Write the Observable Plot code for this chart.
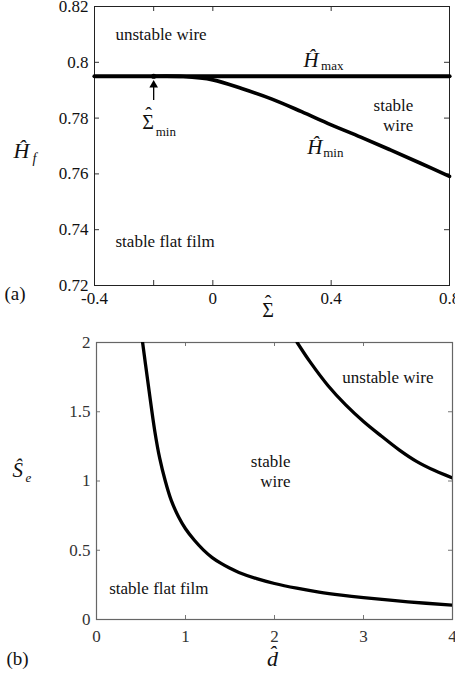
<!DOCTYPE html>
<html>
<head>
<meta charset="utf-8">
<script src="https://cdn.jsdelivr.net/npm/d3@7"></script>
<script src="https://cdn.jsdelivr.net/npm/@observablehq/plot@0.6"></script>
<style>
  html, body { margin: 0; padding: 0; background: #fff; }
  #wrap { position: relative; width: 455px; height: 681px; overflow: hidden; background: #fff; }
  #pa, #pb { position: absolute; left: 0; }
  #pa { top: 0; }
  #pb { top: 325px; }
</style>
</head>
<body>
<div id="wrap"><div id="pa"></div><div id="pb"></div></div>
<script>
// ---- Panel (a) data ----
const sigmaTicks = [-0.4, 0, 0.4, 0.8];
const hfTicks = [0.72, 0.74, 0.76, 0.78, 0.8, 0.82];
const sigmaMinorTop = [-0.2, 0, 0.4];
const sigmaCurve = [-0.2, -0.1, 0, 0.1, 0.2, 0.3, 0.4, 0.5, 0.6, 0.7, 0.8];
const hMinCurve = [0.795, 0.7949, 0.7937, 0.7905, 0.7868, 0.7823, 0.7776, 0.7732, 0.7686, 0.7639, 0.7591];
const sigmaSpan = [-0.4, 0.8];
const hMaxValue = 0.795;
const sigmaMinPoint = -0.2;

// ---- Panel (b) data ----
const dTicks = [0, 1, 2, 3, 4];
const seTicks = [0, 0.5, 1, 1.5, 2];
const dLower = [0.518, 0.55, 0.59, 0.655, 0.71, 0.773, 0.84, 0.923, 1.0, 1.1, 1.2, 1.3, 1.4, 1.5, 1.6, 1.8, 2.0, 2.25, 2.5, 2.75, 3.0, 3.5, 4.0];
const sLower = [2.0, 1.845, 1.655, 1.36, 1.165, 1.0, 0.86, 0.74, 0.655, 0.572, 0.503, 0.447, 0.405, 0.37, 0.34, 0.295, 0.26, 0.226, 0.198, 0.176, 0.158, 0.128, 0.103];
const dUpper = [2.255, 2.4, 2.6, 2.8, 3.0, 3.2, 3.4, 3.6, 3.8, 4.0];
const sUpper = [2.0, 1.86, 1.69, 1.55, 1.43, 1.325, 1.225, 1.14, 1.075, 1.022];

const FONT = "'Liberation Serif', 'Times New Roman', serif";
const fmt = d => String(d);
const HAT = "\u02C6";

// ---------- Panel (a) ----------
{
  const W = 455, H = 325, mL = 94, mR = 6, mT = 6, mB = 40;
  const iw = W - mL - mR, ih = H - mT - mB;
  const lineA = sigmaCurve.map((s, i) => ({s, h: hMinCurve[i]}));
  const maxLine = sigmaSpan.map(s => ({s, h: hMaxValue}));
  const chart = Plot.plot({
    width: W, height: H,
    marginLeft: mL, marginRight: mR, marginTop: mT, marginBottom: mB,
    x: {domain: [-0.4, 0.8]},
    y: {domain: [0.72, 0.82]},
    style: {fontFamily: FONT, fontSize: "17px", color: "#111", background: "transparent", overflow: "visible"},
    marks: [
      Plot.axisX(sigmaTicks, {tickSize: 0, tickPadding: 6, label: null, tickFormat: fmt, fontSize: 17}),
      Plot.axisY(hfTicks, {tickSize: 0, tickPadding: 6, label: null, tickFormat: fmt, fontSize: 17}),
      Plot.tickX(sigmaTicks.concat([-0.2]), {x: d => d, insetTop: ih - 5, stroke: "#333"}),
      Plot.tickX(sigmaMinorTop, {x: d => d, insetBottom: ih - 5, stroke: "#333"}),
      Plot.tickY(hfTicks, {y: d => d, insetRight: iw - 5, stroke: "#333"}),
      Plot.tickY(hfTicks, {y: d => d, insetLeft: iw - 5, stroke: "#333"}),
      Plot.frame({stroke: "#222", strokeWidth: 1}),
      Plot.line(maxLine, {x: "s", y: "h", stroke: "#000", strokeWidth: 4.2}),
      Plot.line(lineA, {x: "s", y: "h", stroke: "#000", strokeWidth: 3.6, curve: "catmull-rom"}),
      Plot.dot([sigmaMinPoint], {x: d => d, y: () => hMaxValue, r: 2.6, fill: "#000", stroke: null}),
      Plot.ruleX([sigmaMinPoint], {x: d => d, y1: 0.7863, y2: 0.7912, stroke: "#000", strokeWidth: 1.3}),
      Plot.dot([sigmaMinPoint], {x: d => d, y: () => 0.7919, symbol: "triangle", r: 3.2, fill: "#000", stroke: null}),
      // region labels
      Plot.text(["unstable wire"], {x: () => -0.329, y: () => 0.8099, text: d => d, textAnchor: "start", fontSize: 17, fill: "#111"}),
      Plot.text(["stable flat film"], {x: () => -0.329, y: () => 0.7358, text: d => d, textAnchor: "start", fontSize: 17, fill: "#111"}),
      Plot.text(["stable"], {x: () => 0.6773, y: () => 0.7845, text: d => d, textAnchor: "end", fontSize: 17, fill: "#111"}),
      Plot.text(["wire"], {x: () => 0.6773, y: () => 0.7774, text: d => d, textAnchor: "end", fontSize: 17, fill: "#111"}),
      // H max
      Plot.text(["Ĥ"], {x: () => 0.3065, y: () => 0.8006, text: d => d, textAnchor: "start", fontSize: 21, fontStyle: "italic", fill: "#111"}),
      Plot.text(["max"], {x: () => 0.366, y: () => 0.7986, text: d => d, textAnchor: "start", fontSize: 13, fill: "#111"}),
      // H min
      Plot.text(["Ĥ"], {x: () => 0.319, y: () => 0.7696, text: d => d, textAnchor: "start", fontSize: 21, fontStyle: "italic", fill: "#111"}),
      Plot.text(["min"], {x: () => 0.373, y: () => 0.7676, text: d => d, textAnchor: "start", fontSize: 13, fill: "#111"}),
      // Sigma min
      Plot.text(["Σ"], {x: () => -0.239, y: () => 0.7783, text: d => d, textAnchor: "start", fontSize: 20, fill: "#111"}),
      Plot.text([HAT], {x: () => -0.2175, y: () => 0.7783, dy: -7, text: d => d, fontSize: 20, fill: "#111"}),
      Plot.text(["min"], {x: () => -0.193, y: () => 0.7750, text: d => d, textAnchor: "start", fontSize: 13, fill: "#111"}),
      // axis labels
      Plot.text(["Ĥ"], {frameAnchor: "left", dx: -81, dy: 5, text: d => d, textAnchor: "start", fontSize: 22, fontStyle: "italic", fill: "#111"}),
      Plot.text(["f"], {frameAnchor: "left", dx: -62, dy: 13, text: d => d, textAnchor: "start", fontSize: 14, fontStyle: "italic", fill: "#111"}),
      Plot.text(["Σ"], {frameAnchor: "bottom", dx: -4, dy: 31, text: d => d, fontSize: 20, fill: "#111"}),
      Plot.text([HAT], {frameAnchor: "bottom", dx: -4, dy: 24, text: d => d, fontSize: 20, fill: "#111"}),
      Plot.text(["(a)"], {frameAnchor: "bottom-left", dx: -90, dy: 14, text: d => d, textAnchor: "start", fontSize: 19, fill: "#111"})
    ]
  });
  document.getElementById("pa").appendChild(chart);
}

// ---------- Panel (b) ----------
{
  const W = 455, H = 356, mL = 96, mR = 3, mT = 17, mB = 62;
  const iw = W - mL - mR, ih = H - mT - mB;
  const low = dLower.map((d, i) => ({d, s: sLower[i]}));
  const up = dUpper.map((d, i) => ({d, s: sUpper[i]}));
  const chart = Plot.plot({
    width: W, height: H,
    marginLeft: mL, marginRight: mR, marginTop: mT, marginBottom: mB,
    x: {domain: [0, 4]},
    y: {domain: [0, 2]},
    style: {fontFamily: FONT, fontSize: "17px", color: "#222", background: "transparent", overflow: "visible"},
    marks: [
      Plot.axisX(dTicks, {tickSize: 0, tickPadding: 10, label: null, tickFormat: fmt, fontSize: 17, fill: "#333"}),
      Plot.axisY(seTicks, {tickSize: 0, tickPadding: 6, label: null, tickFormat: fmt, fontSize: 17, fill: "#333"}),
      Plot.tickX(dTicks, {x: d => d, insetTop: ih - 4, stroke: "#777"}),
      Plot.tickX(dTicks, {x: d => d, insetBottom: ih - 4, stroke: "#777"}),
      Plot.tickY(seTicks, {y: d => d, insetRight: iw - 4, stroke: "#777"}),
      Plot.tickY(seTicks, {y: d => d, insetLeft: iw - 4, stroke: "#777"}),
      Plot.frame({stroke: "#666", strokeWidth: 1.2}),
      Plot.line(low, {x: "d", y: "s", stroke: "#000", strokeWidth: 3.3, curve: "catmull-rom", clip: true}),
      Plot.line(up, {x: "d", y: "s", stroke: "#000", strokeWidth: 3.3, curve: "catmull-rom", clip: true}),
      Plot.text(["unstable wire"], {x: () => 2.762, y: () => 1.748, text: d => d, textAnchor: "start", fontSize: 17, fill: "#111"}),
      Plot.text(["stable"], {x: () => 2.18, y: () => 1.143, text: d => d, textAnchor: "end", fontSize: 17, fill: "#111"}),
      Plot.text(["wire"], {x: () => 2.18, y: () => 0.9986, text: d => d, textAnchor: "end", fontSize: 17, fill: "#111"}),
      Plot.text(["stable flat film"], {x: () => 0.143, y: () => 0.2233, text: d => d, textAnchor: "start", fontSize: 17, fill: "#111"}),
      Plot.text(["Ŝ"], {frameAnchor: "left", dx: -84, dy: -11, text: d => d, textAnchor: "start", fontSize: 21, fontStyle: "italic", fill: "#111"}),
      Plot.text(["e"], {frameAnchor: "left", dx: -71, dy: -3, text: d => d, textAnchor: "start", fontSize: 13, fontStyle: "italic", fill: "#111"}),
      Plot.text(["d\u0302"], {frameAnchor: "bottom", dx: -2, dy: 46, text: d => d, fontSize: 22, fontStyle: "italic", fill: "#111"}),
      Plot.text(["(b)"], {frameAnchor: "bottom-left", dx: -90, dy: 45, text: d => d, textAnchor: "start", fontSize: 19, fill: "#111"})
    ]
  });
  document.getElementById("pb").appendChild(chart);
}
</script>
</body>
</html>
